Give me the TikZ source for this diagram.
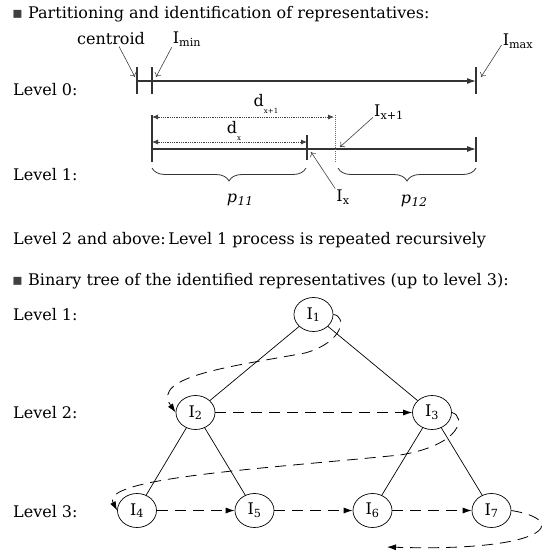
\documentclass[tikz,border=0pt]{standalone}
\usepackage{fontspec}
\setmainfont{DejaVu Serif}
\newfontfamily\symfont{DejaVu Sans}
\usetikzlibrary{arrows.meta,shapes.geometric,decorations.pathreplacing}

\newcommand{\lowsub}[1]{\raisebox{-0.9ex}{\fontsize{7}{7}\selectfont #1}}

\begin{document}
\begin{tikzpicture}[x=1pt,y=-1pt,
  every node/.style={font=\fontsize{16}{19}\selectfont},
  txt/.style={anchor=west,inner sep=0pt},
  lab/.style={inner sep=1pt},
  rep/.style={draw,ellipse,minimum width=39pt,minimum height=34pt,inner sep=0pt,line width=0.7pt},
  axis/.style={draw=black!80,line width=1.1pt},
  pointer/.style={-{To[length=4pt,width=7pt]},draw=black!75,line width=0.6pt},
  dist/.style={{Latex[length=6pt,width=5pt]}-{Latex[length=6pt,width=5pt]},densely dotted,draw=black!75,line width=0.8pt},
  visit/.style={-{Latex[length=9pt,width=6pt]},dash pattern=on 11pt off 7pt,line width=0.8pt},
  part/.style={decorate,decoration={brace,mirror,amplitude=13pt},draw=black!80,line width=0.8pt}]

\useasboundingbox (0,0) rectangle (549,555);

\node[txt] (head1) at (12,14) {{\symfont\color{black!75}▪} Partitioning and identification of representatives:};
\node[txt] (lev0) at (13,90) {Level 0:};
\node[lab] (cenlab) at (111,39) {centroid};
\node[lab] (minlab) at (187,39) {I\textsubscript{min}};
\node[lab] (maxlab) at (518,41) {I\textsubscript{max}};

\coordinate (cen) at (137,81);
\coordinate (min) at (152,81);
\coordinate (max) at (476,81);
\draw[axis] (cen) -- (min);
\draw[axis,-{Latex[length=9pt,width=6pt]}] (min) -- (max);
\foreach \p in {cen,min,max}
  \draw[axis] ([yshift=14pt]\p) -- ([yshift=-13pt]\p);
\draw[pointer] ([xshift=8pt]cenlab.south) -- ([xshift=-2pt,yshift=4pt]cen);
\draw[pointer] (minlab.south west) -- ([xshift=4pt,yshift=4pt]min);
\draw[pointer] ([yshift=-4pt]maxlab.west) -- ([xshift=5pt,yshift=4pt]max);

\node[txt] (lev1) at (13,175) {Level 1:};
\coordinate (a1) at (152,149);
\coordinate (b1) at (476,149);
\coordinate (ix) at (307,149);
\coordinate (ix1) at (335,149);
\draw[axis,-{Latex[length=9pt,width=6pt]}] (a1) -- (b1);
\draw[axis] ([yshift=34pt]a1) -- ([yshift=-13pt]a1);
\draw[axis] ([yshift=12pt]b1) -- ([yshift=-13pt]b1);
\draw[axis] ([yshift=14pt]ix) -- ([yshift=-11pt]ix);
\draw[densely dotted,black!60,line width=1pt] ([yshift=34pt]ix1) -- ([yshift=-13pt]ix1);
\draw[dist] ([yshift=32pt]a1) -- ([yshift=32pt,xshift=-1pt]ix1);
\draw[dist] ([yshift=7pt]a1) -- ([yshift=7pt]ix);
\node[lab] (dx1) at (266,104) {d\lowsub{x+1}};
\node[lab] (dx) at (234,131) {d\lowsub{x}};
\draw[part] ([yshift=-19pt]a1) -- ([yshift=-19pt,xshift=-1pt]ix);
\draw[part] ([yshift=-19pt,xshift=3pt]ix1) -- ([yshift=-19pt]b1);
\node[lab] (p11) at (240,200) {\textit{p\kern0.5pt\raisebox{-0.4ex}{\fontsize{12}{12}\selectfont 11}}};
\node[lab] (p12) at (414,201) {\textit{p\kern0.5pt\raisebox{-0.4ex}{\fontsize{12}{12}\selectfont 12}}};
\node[lab] (ixlab) at (343,197) {I\textsubscript{x}};
\node[lab] (ix1lab) at (389,112) {I\textsubscript{x+1}};
\draw[pointer] (ixlab.north west) -- ([xshift=4pt,yshift=-3pt]ix);
\draw[pointer] ([yshift=3pt]ix1lab.south west) -- ([xshift=5pt,yshift=2pt]ix1);

\node[txt] (lev2up) at (13,240) {Level 2 and above:\,Level 1 process is repeated recursively};

% binary tree
\node[txt] (head2) at (12,281) {{\symfont\color{black!75}▪} Binary tree of the identified representatives (up to level 3):};
\node[txt] (tl1) at (13,315) {Level 1:};
\node[txt] (tl2) at (13,413) {Level 2:};
\node[txt] (tl3) at (13,512) {Level 3:};

\node[rep] (i1) at (313.5,314.5) {I\textsubscript{1}};
\node[rep] (i2) at (195.5,412.5) {I\textsubscript{2}};
\node[rep] (i3) at (432,412.5) {I\textsubscript{3}};
\node[rep] (i4) at (137,510.5) {I\textsubscript{4}};
\node[rep] (i5) at (254.5,510.5) {I\textsubscript{5}};
\node[rep] (i6) at (372.5,510.5) {I\textsubscript{6}};
\node[rep] (i7) at (491.5,510.5) {I\textsubscript{7}};

\draw[line width=0.7pt] (i1) -- (i2) (i1) -- (i3) (i2) -- (i4) (i2) -- (i5) (i3) -- (i6) (i3) -- (i7);

\draw[visit] (i2) -- (i3);
\draw[visit] (i4) -- (i5);
\draw[visit] (i5) -- (i6);
\draw[visit] (i6) -- (i7);
\draw[visit] (i1.east) .. controls (347,316) and (344,342) .. (305,353) .. controls (235,366) and (150,376) .. (i2.west);
\draw[visit] (i3.east) .. controls (466,416) and (462,445) .. (400,455) .. controls (260,469) and (100,478) .. (i4.west);
\coordinate (next) at (387,547);
\draw[visit] (i7.east) .. controls (570,520) and (550,552) .. (next);
\end{tikzpicture}
\end{document}
